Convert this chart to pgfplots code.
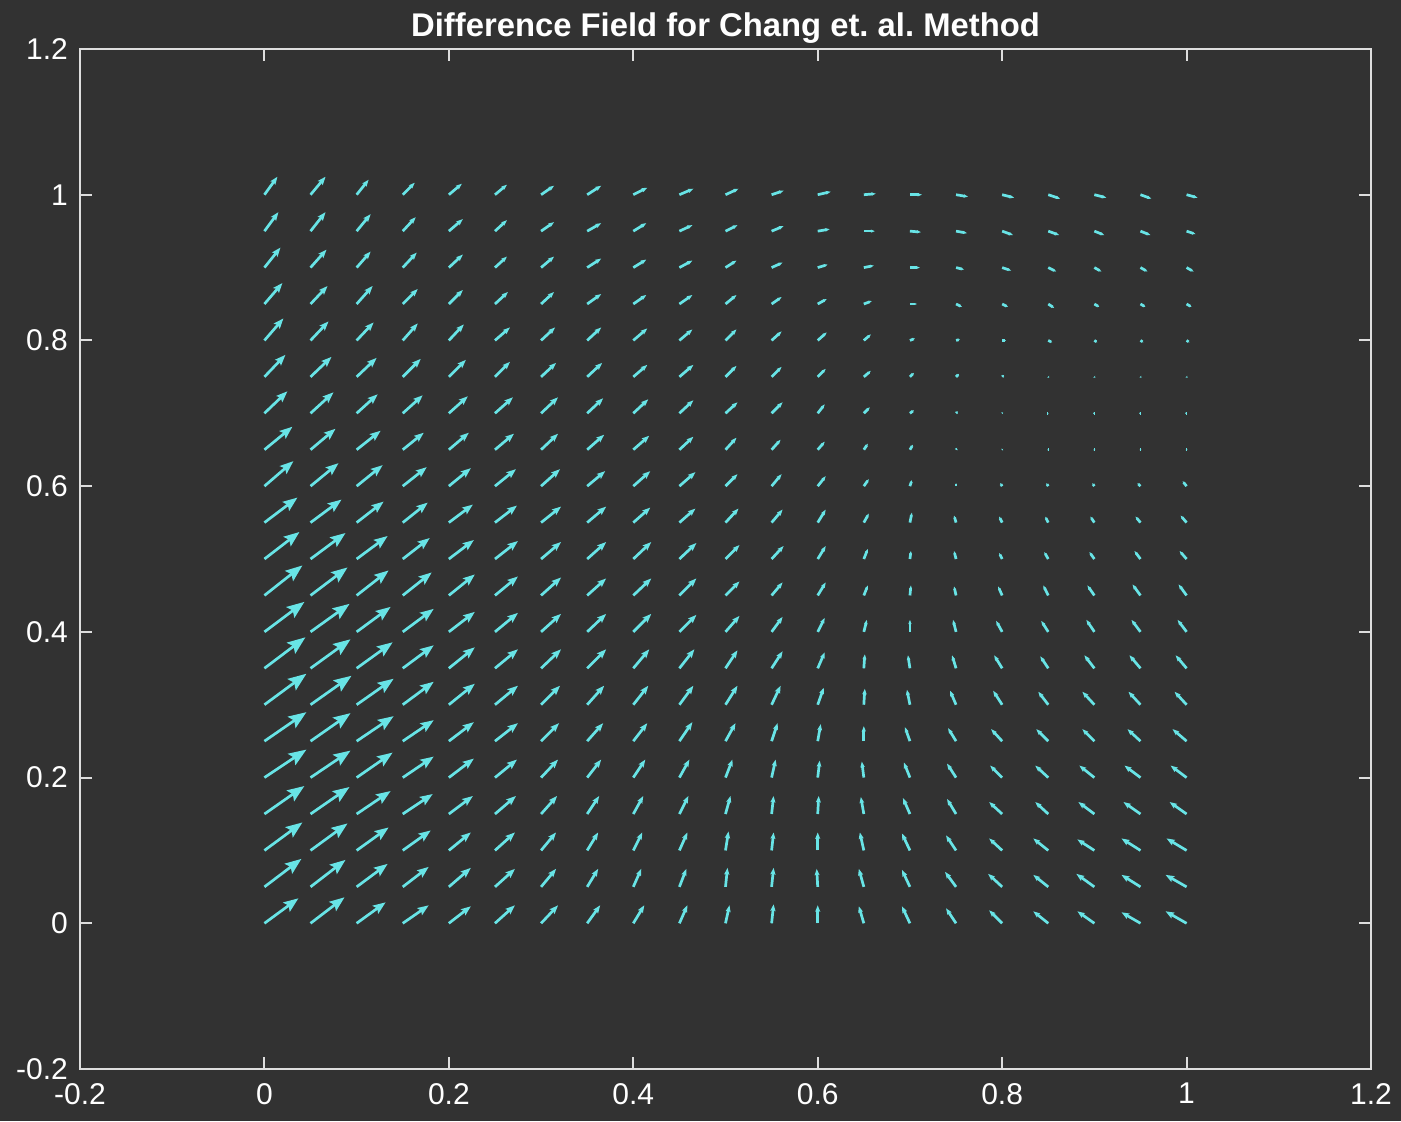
\documentclass[border=0pt]{standalone}
\usepackage{fontspec}
\setmainfont{Liberation Sans}
\usepackage{pgfplots}
\usepackage{pgfplotstable}
\pgfplotsset{compat=1.18}
\usetikzlibrary{arrows.meta,backgrounds}

\definecolor{bgdark}{RGB}{50,50,50}
\definecolor{axisgray}{RGB}{222,222,222}
\definecolor{quivercyan}{RGB}{104,228,230}

% Difference field on a 21 x 21 grid: x, y, then the two components
% du, dv of each arrow (arrow scale units, converted in the quiver keys).
\pgfplotstableread{
x y du dv
0 0 34 25
0.05 0 34 26
0.1 0 29 21
0.15 0 26 18
0.2 0 22 17
0.25 0 20 18
0.3 0 17 18
0.35 0 13 18
0.4 0 11 18
0.45 0 8 18
0.5 0 4 18
0.55 0 2 19
0.6 0 0 18
0.65 0 -5 17
0.7 0 -8 17
0.75 0 -10 15
0.8 0 -13 13
0.85 0 -15 12
0.9 0 -17 12
0.95 0 -19 11
1 0 -21 12
0 0.05 37 28
0.05 0.05 35 27
0.1 0.05 31 23
0.15 0.05 26 20
0.2 0.05 22 19
0.25 0.05 20 18
0.3 0.05 15 18
0.35 0.05 11 18
0.4 0.05 8 18
0.45 0.05 7 18
0.5 0.05 2 19
0.55 0.05 2 19
0.6 0.05 -1 18
0.65 0.05 -5 18
0.7 0.05 -8 17
0.75 0.05 -11 15
0.8 0.05 -14 13
0.85 0.05 -15 12
0.9 0.05 -18 13
0.95 0.05 -19 12
1 0.05 -21 12
0 0.1 38 28
0.05 0.1 37 27
0.1 0.1 32 23
0.15 0.1 28 20
0.2 0.1 22 18
0.25 0.1 20 18
0.3 0.1 15 18
0.35 0.1 11 18
0.4 0.1 9 18
0.45 0.1 8 18
0.5 0.1 3 19
0.55 0.1 2 18
0.6 0.1 0 18
0.65 0.1 -4 18
0.7 0.1 -8 17
0.75 0.1 -10 15
0.8 0.1 -13 12
0.85 0.1 -15 12
0.9 0.1 -17 11
0.95 0.1 -19 12
1 0.1 -20 12
0 0.15 40 28
0.05 0.15 39 27
0.1 0.15 34 23
0.15 0.15 30 20
0.2 0.15 24 18
0.25 0.15 21 18
0.3 0.15 16 18
0.35 0.15 12 18
0.4 0.15 10 18
0.45 0.15 9 18
0.5 0.15 5 18
0.55 0.15 2 18
0.6 0.15 1 18
0.65 0.15 -3 17
0.7 0.15 -7 16
0.75 0.15 -9 15
0.8 0.15 -13 12
0.85 0.15 -13 12
0.9 0.15 -16 12
0.95 0.15 -17 12
1 0.15 -17 12
0 0.2 42 28
0.05 0.2 40 27
0.1 0.2 36 25
0.15 0.2 31 21
0.2 0.2 25 19
0.25 0.2 22 18
0.3 0.2 17 18
0.35 0.2 14 18
0.4 0.2 12 18
0.45 0.2 10 18
0.5 0.2 7 18
0.55 0.2 4 18
0.6 0.2 2 17
0.65 0.2 -2 16
0.7 0.2 -6 15
0.75 0.2 -9 14
0.8 0.2 -12 12
0.85 0.2 -13 12
0.9 0.2 -15 12
0.95 0.2 -16 12
1 0.2 -16 12
0 0.25 42 29
0.05 0.25 40 28
0.1 0.25 37 25
0.15 0.25 31 21
0.2 0.25 25 19
0.25 0.25 23 18
0.3 0.25 18 18
0.35 0.25 16 18
0.4 0.25 14 18
0.45 0.25 13 19
0.5 0.25 10 18
0.55 0.25 6 18
0.6 0.25 3 17
0.65 0.25 0 15
0.7 0.25 -5 14
0.75 0.25 -8 13
0.8 0.25 -11 12
0.85 0.25 -12 12
0.9 0.25 -12 12
0.95 0.25 -13 12
1 0.25 -14 12
0 0.3 42 31
0.05 0.3 41 29
0.1 0.3 37 26
0.15 0.3 31 23
0.2 0.3 26 21
0.25 0.3 23 19
0.3 0.3 19 19
0.35 0.3 17 19
0.4 0.3 15 19
0.45 0.3 14 19
0.5 0.3 12 19
0.55 0.3 9 19
0.6 0.3 6 17
0.65 0.3 1 16
0.7 0.3 -3 15
0.75 0.3 -6 14
0.8 0.3 -9 14
0.85 0.3 -10 13
0.9 0.3 -12 13
0.95 0.3 -12 13
1 0.3 -12 13
0 0.35 41 31
0.05 0.35 40 29
0.1 0.35 36 26
0.15 0.35 31 23
0.2 0.35 26 21
0.25 0.35 23 19
0.3 0.35 20 19
0.35 0.35 19 19
0.4 0.35 16 19
0.45 0.35 15 19
0.5 0.35 12 18
0.55 0.35 11 17
0.6 0.35 7 16
0.65 0.35 1 14
0.7 0.35 -2 13
0.75 0.35 -4 13
0.8 0.35 -8 13
0.85 0.35 -8 12
0.9 0.35 -10 13
0.95 0.35 -11 13
1 0.35 -11 13
0 0.4 40 30
0.05 0.4 39 28
0.1 0.4 34 25
0.15 0.4 31 23
0.2 0.4 26 20
0.25 0.4 23 19
0.3 0.4 20 18
0.35 0.4 19 18
0.4 0.4 18 18
0.45 0.4 17 17
0.5 0.4 14 16
0.55 0.4 11 15
0.6 0.4 7 14
0.65 0.4 3 12
0.7 0.4 0 12
0.75 0.4 -3 12
0.8 0.4 -6 11
0.85 0.4 -7 11
0.9 0.4 -8 12
0.95 0.4 -9 12
1 0.4 -9 12
0 0.45 38 30
0.05 0.45 37 28
0.1 0.45 32 25
0.15 0.45 29 23
0.2 0.45 26 21
0.25 0.45 23 19
0.3 0.45 20 18
0.35 0.45 19 17
0.4 0.45 18 17
0.45 0.45 17 17
0.5 0.45 14 14
0.55 0.45 11 13
0.6 0.45 8 13
0.65 0.45 4 10
0.7 0.45 1 10
0.75 0.45 -2 9
0.8 0.45 -4 9
0.85 0.45 -5 10
0.9 0.45 -7 10
0.95 0.45 -8 11
1 0.45 -8 11
0 0.5 35 27
0.05 0.5 35 26
0.1 0.5 31 23
0.15 0.5 27 21
0.2 0.5 25 19
0.25 0.5 23 18
0.3 0.5 20 17
0.35 0.5 19 17
0.4 0.5 18 17
0.45 0.5 17 16
0.5 0.5 14 14
0.55 0.5 12 13
0.6 0.5 8 13
0.65 0.5 4 10
0.7 0.5 1 8
0.75 0.5 -2 8
0.8 0.5 -3 6
0.85 0.5 -4 7
0.9 0.5 -5 7
0.95 0.5 -6 8
1 0.5 -7 8
0 0.55 33 25
0.05 0.55 31 23
0.1 0.55 27 21
0.15 0.55 25 20
0.2 0.55 24 18
0.25 0.55 22 17
0.3 0.55 20 16
0.35 0.55 19 16
0.4 0.55 17 15
0.45 0.55 16 14
0.5 0.55 13 14
0.55 0.55 11 13
0.6 0.55 8 13
0.65 0.55 5 9
0.7 0.55 2 10
0.75 0.55 -2 7
0.8 0.55 -3 6
0.85 0.55 -3 6
0.9 0.55 -4 6
0.95 0.55 -5 6
1 0.55 -6 7
0 0.6 29 25
0.05 0.6 28 23
0.1 0.6 26 21
0.15 0.6 24 19
0.2 0.6 22 18
0.25 0.6 21 17
0.3 0.6 19 17
0.35 0.6 18 15
0.4 0.6 17 15
0.45 0.6 16 14
0.5 0.6 12 12
0.55 0.6 10 12
0.6 0.6 8 10
0.65 0.6 5 7
0.7 0.6 2 6
0.75 0.6 0 3
0.8 0.6 -2 3
0.85 0.6 -2 3
0.9 0.6 -2 3
0.95 0.6 -3 3
1 0.6 -4 5
0 0.65 28 23
0.05 0.65 25 21
0.1 0.65 24 19
0.15 0.65 21 17
0.2 0.65 20 17
0.25 0.65 19 16
0.3 0.65 17 16
0.35 0.65 17 15
0.4 0.65 16 14
0.45 0.65 14 13
0.5 0.65 11 12
0.55 0.65 9 10
0.6 0.65 7 8
0.65 0.65 4 6
0.7 0.65 3 5
0.75 0.65 1 2
0.8 0.65 1 1
0.85 0.65 1 0
0.9 0.65 1 0
0.95 0.65 1 0
1 0.65 1 0
0 0.7 23 22
0.05 0.7 23 21
0.1 0.7 21 19
0.15 0.7 20 18
0.2 0.7 19 17
0.25 0.7 18 16
0.3 0.7 17 16
0.35 0.7 16 15
0.4 0.7 15 14
0.45 0.7 14 13
0.5 0.7 12 11
0.55 0.7 11 11
0.6 0.7 7 9
0.65 0.7 6 6
0.7 0.7 4 3
0.75 0.7 2 2
0.8 0.7 1 1
0.85 0.7 0.5 0
0.9 0.7 0.5 0
0.95 0.7 0.5 0
1 0.7 0.3 0
0 0.75 21 22
0.05 0.75 21 20
0.1 0.75 20 19
0.15 0.75 18 18
0.2 0.75 17 17
0.25 0.75 15 15
0.3 0.75 15 14
0.35 0.75 15 14
0.4 0.75 14 12
0.45 0.75 14 12
0.5 0.75 11 11
0.55 0.75 10 10
0.6 0.75 8 8
0.65 0.75 7 6
0.7 0.75 4 4
0.75 0.75 3 3
0.8 0.75 2 2
0.85 0.75 1 -1
0.9 0.75 1 -1
0.95 0.75 1 -1
1 0.75 1 -1
0 0.8 19 22
0.05 0.8 18 19
0.1 0.8 17 18
0.15 0.8 15 17
0.2 0.8 15 16
0.25 0.8 15 13
0.3 0.8 14 13
0.35 0.8 14 13
0.4 0.8 14 12
0.45 0.8 13 11
0.5 0.8 11 11
0.55 0.8 10 9
0.6 0.8 9 8
0.65 0.8 7 6
0.7 0.8 5 2
0.75 0.8 4 1
0.8 0.8 4 0
0.85 0.8 4 -2
0.9 0.8 3 -2
0.95 0.8 3 -2
1 0.8 3 -2
0 0.85 18 21
0.05 0.85 17 18
0.1 0.85 16 18
0.15 0.85 15 15
0.2 0.85 14 14
0.25 0.85 13 12
0.3 0.85 13 12
0.35 0.85 14 10
0.4 0.85 13 9
0.45 0.85 13 9
0.5 0.85 11 9
0.55 0.85 10 7
0.6 0.85 9 5
0.65 0.85 8 3
0.7 0.85 7 0
0.75 0.85 6 -3
0.8 0.85 6 -3
0.85 0.85 6 -4
0.9 0.85 5 -3
0.95 0.85 5 -3
1 0.85 5 -3
0 0.9 16 20
0.05 0.9 16 18
0.1 0.9 14 16
0.15 0.9 14 15
0.2 0.9 14 13
0.25 0.9 12 11
0.3 0.9 13 11
0.35 0.9 14 9
0.4 0.9 13 8
0.45 0.9 13 7
0.5 0.9 11 7
0.55 0.9 11 5
0.6 0.9 10 3
0.65 0.9 10 2
0.7 0.9 10 0
0.75 0.9 8 -2
0.8 0.9 9 -3
0.85 0.9 8 -4
0.9 0.9 7 -4
0.95 0.9 7 -4
1 0.9 7 -4
0 0.95 14 19
0.05 0.95 15 19
0.1 0.95 14 17
0.15 0.95 13 14
0.2 0.95 14 12
0.25 0.95 12 11
0.3 0.95 13 9
0.35 0.95 14 8
0.4 0.95 13 8
0.45 0.95 13 6
0.5 0.95 12 6
0.55 0.95 12 5
0.6 0.95 12 2
0.65 0.95 11 0
0.7 0.95 11 -1
0.75 0.95 11 -2
0.8 0.95 11 -4
0.85 0.95 11 -4
0.9 0.95 10 -4
0.95 0.95 10 -4
1 0.95 9 -3
0 1 13 18
0.05 1 15 18
0.1 1 12 15
0.15 1 12 12
0.2 1 13 11
0.25 1 12 10
0.3 1 13 9
0.35 1 14 9
0.4 1 14 7
0.45 1 14 6
0.5 1 13 6
0.55 1 12 4
0.6 1 13 3
0.65 1 12 1
0.7 1 12 0
0.75 1 12 -2
0.8 1 12 -3
0.85 1 12 -4
0.9 1 12 -3
0.95 1 11 -4
1 1 11 -3
}\difffield

\begin{document}
\begin{tikzpicture}
\begin{axis}[
  scale only axis,
  width=645.5pt, height=510pt,
  xmin=-0.2, xmax=1.2, ymin=-0.2, ymax=1.2,
  xtick={-0.2,0,0.2,0.4,0.6,0.8,1,1.2},
  ytick={-0.2,0,0.2,0.4,0.6,0.8,1,1.2},
  tick align=inside,
  major tick length=6pt,
  axis line style={draw=axisgray, line width=1.1pt},
  every tick/.style={draw=axisgray, line width=1pt},
  /pgf/number format/assume math mode=true,
  ticklabel style={font=\fontsize{15}{17}\selectfont, text=white},
  xticklabel style={yshift=-3.5pt},
  yticklabel style={xshift=-2.5pt},
  title={Difference Field for Chang et.\ al.\ Method},
  every axis title shift=0pt,
  title style={at={(0.5,1)}, anchor=base, yshift=6pt,
    font=\bfseries\fontsize{16.4}{18}\selectfont, text=white},
  point meta min=0, point meta max=60,
]
\addplot[
  draw=quivercyan, fill=quivercyan, line width=1.35pt,
  point meta={sqrt(\thisrow{du}^2+\thisrow{dv}^2)},
  quiver={
    u=\thisrow{du}/922, v=\thisrow{dv}/728.6,
    every arrow/.append style={
      -{Stealth[length=10.5pt, width=8pt, inset=1.8pt,
        scale length={max(0.08,\pgfplotspointmetatransformed/1000)},
        scale width={max(0.08,\pgfplotspointmetatransformed/1000)}]}
    },
  },
] table[x=x, y=y] {\difffield};
\end{axis}
\pgfresetboundingbox
\path[use as bounding box] ([xshift=-40pt, yshift=-26pt]current axis.south west)
  rectangle ([xshift=15pt, yshift=24.5pt]current axis.north east);
\begin{scope}[on background layer]
  \fill[bgdark] ([xshift=-40pt, yshift=-26pt]current axis.south west)
    rectangle ([xshift=15pt, yshift=24.5pt]current axis.north east);
\end{scope}
\end{tikzpicture}
\end{document}
